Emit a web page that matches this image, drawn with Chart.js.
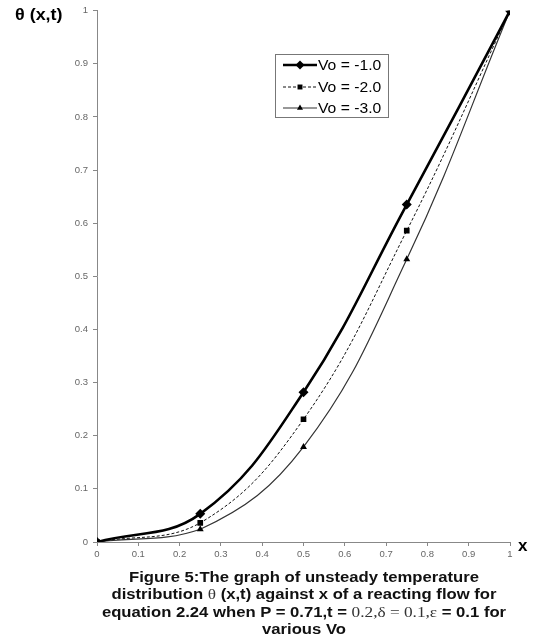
<!DOCTYPE html>
<html>
<head>
<meta charset="utf-8">
<script src="https://cdn.jsdelivr.net/npm/chart.js@4.4.1/dist/chart.umd.min.js"></script>
<style>
  html, body { margin: 0; padding: 0; background: #fff; }
  #wrap { position: relative; width: 534px; height: 638px; }
  #c { position: absolute; left: 0; top: 0; }
  .lab { position: absolute; font-family: "Liberation Sans", Arial, sans-serif; font-weight: bold; color: #000; white-space: nowrap; transform-origin: 0 0; }
  #caption { position: absolute; left: 74px; width: 460px; top: 569px; text-align: center; font-family: "Liberation Sans", Arial, sans-serif; font-weight: bold; font-size: 14px; line-height: 17.3px; color: #111; transform: scaleX(1.19); transform-origin: 230px 0; white-space: nowrap; }
  .serif { font-family: "Liberation Serif", "Times New Roman", serif; font-weight: normal; color: #333; font-size: 14.5px; }
</style>
</head>
<body>
<div id="wrap">
  <canvas id="c" width="534" height="638"></canvas>
  <div class="lab" style="left:15px; top:6px; font-size:16px; transform:scaleX(1.12);">θ (x,t)</div>
  <div class="lab" style="left:518px; top:536px; font-size:17px;">x</div>
  <div id="caption">Figure 5:The graph of unsteady temperature<br>distribution <span class="serif">θ</span> (x,t) against x of a reacting flow for<br>equation 2.24 when P = 0.71,t = <span class="serif">0.2,δ = 0.1,ε</span> = 0.1 for<br>various Vo</div>
</div>
<script>
const xValues = [0, 0.25, 0.5, 0.75, 1];
const vo1 = [0, 0.053, 0.282, 0.635, 1];
const vo2 = [0, 0.036, 0.231, 0.586, 1];
const vo3 = [0, 0.024, 0.179, 0.532, 1];
const seriesLabels = ['Vo = -1.0', 'Vo = -2.0', 'Vo = -3.0'];
const xTickLabels = ['0', '0.1', '0.2', '0.3', '0.4', '0.5', '0.6', '0.7', '0.8', '0.9', '1'];
const yTickLabels = ['0', '0.1', '0.2', '0.3', '0.4', '0.5', '0.6', '0.7', '0.8', '0.9', '1'];

const toPts = arr => arr.map((y, i) => ({ x: xValues[i], y }));

const datasets = [
  { label: seriesLabels[0], data: toPts(vo1), borderColor: '#000', backgroundColor: '#000',
    borderWidth: 2.6, pointStyle: 'rectRot', pointRadius: 5, pointBorderWidth: 0, tension: 0.4 },
  { label: seriesLabels[1], data: toPts(vo2), borderColor: '#111', backgroundColor: '#000',
    borderWidth: 1, borderDash: [3, 2], pointStyle: 'rect', pointRadius: 4, pointBorderWidth: 0, tension: 0.4 },
  { label: seriesLabels[2], data: toPts(vo3), borderColor: '#333', backgroundColor: '#000',
    borderWidth: 1.2, pointStyle: 'triangle', pointRadius: 4, pointBorderWidth: 0, tension: 0.4 }
];

const legendPlugin = {
  id: 'insideLegend',
  afterDraw(chart) {
    const ctx = chart.ctx;
    ctx.save();
    const bx = 275.5, by = 54.5, bw = 113, bh = 63;
    ctx.strokeStyle = '#777';
    ctx.lineWidth = 1;
    ctx.strokeRect(bx, by, bw, bh);
    const rows = [65, 87, 108];
    ctx.font = '14px "Liberation Sans", Arial, sans-serif';
    ctx.textBaseline = 'middle';
    chart.data.datasets.forEach((ds, i) => {
      const y = rows[i];
      ctx.beginPath();
      ctx.strokeStyle = ds.borderColor;
      ctx.lineWidth = ds.borderWidth;
      ctx.setLineDash(ds.borderDash || []);
      ctx.moveTo(283, y);
      ctx.lineTo(317, y);
      ctx.stroke();
      ctx.setLineDash([]);
      ctx.fillStyle = '#000';
      Chart.helpers.drawPoint(ctx, { pointStyle: ds.pointStyle, radius: ds.pointStyle === 'rectRot' ? 4.5 : 3.5, borderWidth: 0 }, 300, y);
      ctx.save();
      ctx.translate(318, y + 1);
      ctx.scale(1.12, 1);
      ctx.fillStyle = '#000';
      ctx.fillText(ds.label, 0, 0);
      ctx.restore();
    });
    ctx.restore();
  }
};

const tickFont = { family: '"Liberation Sans", Arial, sans-serif', size: 9.5 };

new Chart(document.getElementById('c'), {
  type: 'line',
  data: { datasets },
  options: {
    responsive: false,
    animation: false,
    layout: { padding: { top: 10, right: 24, bottom: 76, left: 0 } },
    plugins: { legend: { display: false }, tooltip: { enabled: false } },
    elements: { point: { backgroundColor: '#000' } },
    scales: {
      x: {
        type: 'linear', min: 0, max: 1,
        afterFit(s) { s.height = 20; },
        border: { color: '#888', width: 1 },
        grid: { display: true, drawOnChartArea: false, drawTicks: true, tickLength: 4, color: '#888' },
        ticks: { stepSize: 0.1, color: '#666', font: tickFont, padding: 3, maxRotation: 0,
          callback: (v) => xTickLabels[Math.round(v * 10)] }
      },
      y: {
        type: 'linear', min: 0, max: 1,
        afterFit(s) { s.width = 97; },
        border: { color: '#888', width: 1 },
        grid: { display: true, drawOnChartArea: false, drawTicks: true, tickLength: 4, color: '#888' },
        ticks: { stepSize: 0.1, color: '#666', font: tickFont, padding: 5,
          callback: (v) => yTickLabels[Math.round(v * 10)] }
      }
    }
  },
  plugins: [legendPlugin]
});
</script>
</body>
</html>
